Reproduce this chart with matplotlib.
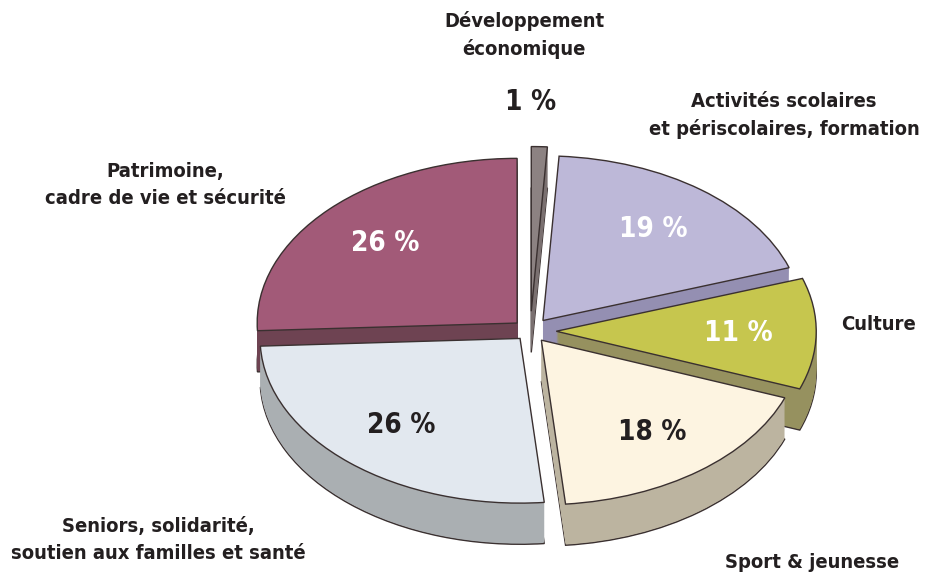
import matplotlib.pyplot as plt
import numpy as np

# data
categories = ['Développement\néconomique', 'Activités scolaires\net périscolaires, formation',
              'Culture', 'Sport & jeunesse', 'Seniors, solidarité,\nsoutien aux familles et santé',
              'Patrimoine,\ncadre de vie et sécurité']
values = [1, 19, 11, 18, 26, 26]
top_colors = ['#8c8282', '#bdb8d8', '#c6c64e', '#fdf4e1', '#e2e8ef', '#a25a78']
side_colors = ['#7a7070', '#948fb2', '#96915f', '#bcb4a0', '#aaafb2', '#6e4352']
pct_colors = ['#231f20', 'white', 'white', '#231f20', '#231f20', 'white']
explode = [0.12, 0.08, 0.10, 0.07, 0.06, 0.07]

plt.rcParams['font.family'] = ['DejaVu Sans']
plt.rcParams['font.stretch'] = 'condensed'
txt = '#231f20'

fig = plt.figure(figsize=(9.41, 5.78), dpi=100)
ax = fig.add_axes([0, 0, 1, 1])

depth = 0.25  # thickness of the pie, in y units
# bottom layer with outline, the layers above hide all but its outer rim
ax.pie(values, colors=side_colors, explode=explode, startangle=90,
       counterclock=False, center=(0, -depth),
       wedgeprops=dict(linewidth=1.0, edgecolor='#3a3030'))
for dy in np.linspace(-depth, 0, 40)[1:-1]:
    ax.pie(values, colors=side_colors, explode=explode, startangle=90,
           counterclock=False, center=(0, dy),
           wedgeprops=dict(linewidth=0))

wedges, texts, autotexts = ax.pie(
    values, colors=top_colors, explode=explode, startangle=90,
    counterclock=False, autopct=lambda p: f'{round(p)} %', pctdistance=0.7,
    wedgeprops=dict(linewidth=1.0, edgecolor='#3a3030'),
    textprops=dict(fontsize=20, fontweight='bold'))
for t, c in zip(autotexts, pct_colors):
    t.set_color(c)
# the 1 % label sits above the chart
autotexts[0].set_position((0, 1.39))

# flatten the pie into an ellipse
ax.set_aspect('auto')
ax.set_xlim(-2.04, 1.58)
ax.set_ylim(-1.50, 2.01)
ax.axis('off')

lab = dict(fontsize=14.5, fontweight='bold', color=txt, ha='center', va='center',
           transform=ax.transAxes, linespacing=1.5)
ax.text(524 / 941, 1 - 35 / 578, categories[0], **lab)
ax.text(784 / 941, 1 - 115 / 578, categories[1], **lab)
ax.text(878 / 941, 1 - 325 / 578, categories[2], **lab)
ax.text(812 / 941, 1 - 562 / 578, categories[3], **lab)
ax.text(158 / 941, 1 - 540 / 578, categories[4], **lab)
ax.text(165 / 941, 1 - 185 / 578, categories[5], **lab)

fig.savefig('out.png', dpi=100)
